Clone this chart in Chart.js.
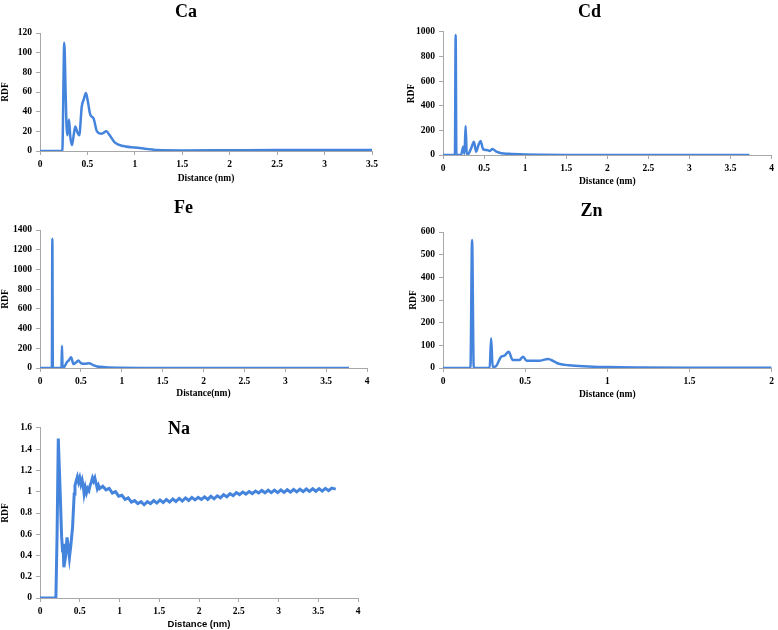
<!DOCTYPE html>
<html>
<head>
<meta charset="utf-8">
<title>RDF</title>
<script src="https://cdn.jsdelivr.net/npm/chart.js@4.4.1/dist/chart.umd.min.js"></script>
<style>
    html, body { margin: 0; padding: 0; background: #fff; }
    body { width: 778px; height: 630px; position: relative; overflow: hidden; }
    canvas { position: absolute; }
</style>
</head>
<body>
<canvas id="caChart" width="385" height="184" style="left:0px;top:0px"></canvas>
<canvas id="cdChart" width="372" height="187" style="left:406px;top:0px"></canvas>
<canvas id="feChart" width="385" height="204" style="left:0px;top:195px"></canvas>
<canvas id="znChart" width="370" height="205" style="left:408px;top:195px"></canvas>
<canvas id="naChart" width="385" height="220" style="left:0px;top:410px"></canvas>
<script>
// RDF data (x = distance in nm)
const caX = [0, 0.235, 0.256, 0.27, 0.28, 0.29, 0.306, 0.32, 0.337, 0.355, 0.372, 0.39, 0.414, 0.44, 0.46, 0.485, 0.505, 0.53, 0.565, 0.6, 0.65, 0.7, 0.735, 0.79, 0.88, 1.05, 1.24, 1.5, 2, 2.5, 3, 3.5];
const caY = [0, 0, 110, 60, 25, 16, 32, 14, 6, 16, 25, 20, 16, 45, 52, 59, 50, 37, 33, 20, 17.5, 20, 16, 8.5, 5, 3, 1, 0.6, 0.8, 1, 1, 1];

const cdX = [0, 0.145, 0.154, 0.163, 0.22, 0.246, 0.262, 0.275, 0.29, 0.315, 0.35, 0.376, 0.404, 0.432, 0.457, 0.49, 0.53, 0.57, 0.6, 0.65, 0.71, 0.8, 1.0, 1.2, 1.5, 2, 2.5, 3, 3.5, 3.73];
const cdY = [0, 0, 975, 0, 0, 67, 10, 236, 5, 14, 67, 108, 27, 81, 114, 46, 41, 33, 49, 27, 14, 10, 5, 2, 1, 1, 1, 1, 1, 1];

const feX = [0, 0.145, 0.151, 0.157, 0.262, 0.269, 0.276, 0.3, 0.33, 0.355, 0.38, 0.41, 0.44, 0.47, 0.5, 0.55, 0.6, 0.65, 0.7, 0.8, 1.0, 1.5, 2, 2.5, 3, 3.5, 3.78];
const feY = [0, 0, 1310, 0, 0, 226, 0, 15, 60, 80, 110, 40, 55, 75, 50, 42, 48, 30, 15, 8, 3, 1, 1, 1, 1, 1, 1];

const znX = [0, 0.167, 0.177, 0.187, 0.284, 0.293, 0.302, 0.319, 0.354, 0.374, 0.4, 0.424, 0.464, 0.488, 0.508, 0.584, 0.64, 0.675, 0.705, 0.765, 0.886, 1.0, 1.2, 1.5, 2];
const znY = [0, 0, 565, 0, 0, 131, 5, 6, 50, 55, 72, 35, 35, 50, 32, 32, 40, 29, 19, 12, 7, 4, 2, 1, 1];

const naX = [0, 0.2, 0.215, 0.23, 0.25, 0.272, 0.285, 0.29, 0.30, 0.32, 0.33, 0.34, 0.355, 0.37, 0.39, 0.41, 0.43, 0.44, 0.455, 0.47, 0.485, 0.5, 0.515, 0.53, 0.545, 0.555, 0.57, 0.585, 0.6, 0.615, 0.63, 0.645, 0.66, 0.675, 0.69, 0.705, 0.72, 0.735, 0.75,
    0.79, 0.83, 0.87, 0.91, 0.95, 0.99, 1.03, 1.07, 1.11, 1.15, 1.19, 1.23, 1.27, 1.31, 1.35, 1.39, 1.43, 1.47, 1.51, 1.55, 1.59, 1.63, 1.67, 1.71, 1.75, 1.79, 1.83, 1.87, 1.91, 1.95, 1.99,
    2.03, 2.07, 2.11, 2.15, 2.19, 2.23, 2.27, 2.31, 2.35, 2.39, 2.43, 2.47, 2.51, 2.55, 2.59, 2.63, 2.67, 2.71, 2.75, 2.79, 2.83, 2.87, 2.91, 2.95, 2.99,
    3.03, 3.07, 3.11, 3.15, 3.19, 3.23, 3.27, 3.31, 3.35, 3.39, 3.43, 3.47, 3.51, 3.55, 3.59, 3.63, 3.67, 3.72];
const naY = [0, 0, 0.6, 1.50, 1.08, 0.575, 0.43, 0.51, 0.29, 0.38, 0.47, 0.57, 0.48, 0.38, 0.51, 0.67, 0.98, 1.06, 1.10, 1.14, 1.09, 1.13, 1.07, 1.11, 1.05, 0.98, 1.04, 0.99, 1.03, 1.01, 1.06, 1.09, 1.13, 1.10, 1.13, 1.08, 1.03, 1.06, 1.03,
    1.052, 1.018, 1.032, 0.988, 1.002, 0.958, 0.967, 0.928, 0.942, 0.903, 0.917, 0.888, 0.907, 0.878, 0.907, 0.888, 0.917, 0.893, 0.922, 0.898, 0.927, 0.903, 0.932, 0.908, 0.937, 0.913, 0.942, 0.918, 0.947, 0.923, 0.947,
    0.928, 0.952, 0.928, 0.957, 0.933, 0.962, 0.943, 0.972, 0.953, 0.982, 0.963, 0.992, 0.973, 0.997, 0.978, 1.002, 0.983, 1.007, 0.988, 1.012, 0.990, 1.014, 0.991, 1.015, 0.992,
    1.017, 0.994, 1.019, 0.996, 1.021, 0.999, 1.024, 1.001, 1.026, 1.003, 1.028, 1.005, 1.029, 1.006, 1.032, 1.010, 1.035, 1.025];

const lineColor = '#4584dc';
const axisColor = '#a8a8a8';
const serif = '"Liberation Serif", "Times New Roman", serif';

Chart.defaults.font.family = serif;
Chart.defaults.font.size = 9.5;
Chart.defaults.font.weight = 'bold';
Chart.defaults.color = '#000';

function toPoints(xs, ys) {
    return xs.map((x, i) => ({ x: x, y: ys[i] }));
}

function makeChart(id, p) {
    const ctx = document.getElementById(id).getContext('2d');
    return new Chart(ctx, {
        type: 'scatter',
        data: {
            datasets: [{
                data: toPoints(p.xs, p.ys),
                showLine: true,
                borderColor: lineColor,
                borderWidth: p.lineWidth || 2.5,
                pointRadius: 0,
                cubicInterpolationMode: p.smooth ? 'monotone' : 'default',
                tension: 0
            }]
        },
        options: {
            responsive: false,
            animation: false,
            layout: { padding: { left: 0, right: p.padRight, top: 0, bottom: 0 } },
            plugins: {
                legend: { display: false },
                tooltip: { enabled: false },
                title: {
                    display: true,
                    text: p.title,
                    font: { size: 18, weight: 'bold', family: serif },
                    color: '#000',
                    padding: { top: p.titleTop, bottom: p.titleBottom }
                }
            },
            scales: {
                x: {
                    type: 'linear',
                    min: 0,
                    max: p.xMax,
                    border: { display: true, color: axisColor },
                    grid: { drawOnChartArea: false, drawTicks: true, tickLength: 4, color: axisColor },
                    ticks: { stepSize: 0.5, padding: 4, maxRotation: 0, callback: v => v },
                    title: {
                        display: true,
                        text: p.xTitle,
                        padding: 0,
                        font: p.xFont || { size: 9.5, weight: 'bold', family: serif }
                    },
                    afterFit: scale => { scale.height = p.xH; }
                },
                y: {
                    min: 0,
                    max: p.yMax,
                    border: { display: true, color: axisColor },
                    grid: { drawOnChartArea: false, drawTicks: true, tickLength: 4, color: axisColor },
                    ticks: { stepSize: p.yStep, padding: 4, callback: v => v },
                    title: { display: true, text: 'RDF', padding: 0 },
                    afterFit: scale => { scale.width = p.yW; }
                }
            }
        }
    });
}

makeChart('caChart', {
    xs: caX, ys: caY, title: 'Ca', xTitle: 'Distance (nm)', smooth: true,
    xMax: 3.5, yMax: 120, yStep: 20,
    titleTop: 1.2, titleBottom: 10.2, xH: 33, yW: 40, padRight: 13
});

makeChart('cdChart', {
    xs: cdX, ys: cdY, title: 'Cd', xTitle: 'Distance (nm)', smooth: true,
    xMax: 4, yMax: 1000, yStep: 200,
    titleTop: 1.2, titleBottom: 9.2, xH: 32, yW: 37, padRight: 5
});

makeChart('feChart', {
    xs: feX, ys: feY, title: 'Fe', xTitle: 'Distance(nm)', smooth: true,
    xMax: 4, yMax: 1400, yStep: 200,
    titleTop: 2.2, titleBottom: 11.2, xH: 31, yW: 40, padRight: 18
});

makeChart('znChart', {
    xs: znX, ys: znY, title: 'Zn', xTitle: 'Distance (nm)', smooth: true,
    xMax: 2, yMax: 600, yStep: 100,
    titleTop: 5.2, titleBottom: 10.2, xH: 32, yW: 35, padRight: 3
});

// Na: title sits inside the plot area, hence the negative bottom padding
makeChart('naChart', {
    xs: naX, ys: naY, title: 'Na', xTitle: 'Distance (nm)', smooth: false,
    xMax: 4, yMax: 1.6, yStep: 0.2, lineWidth: 3,
    xFont: { size: 9.5, weight: 'bold', family: '"Liberation Sans", Arial, sans-serif' },
    titleTop: 8.2, titleBottom: -11.8, xH: 32, yW: 40, padRight: 27
});
</script>
</body>
</html>
